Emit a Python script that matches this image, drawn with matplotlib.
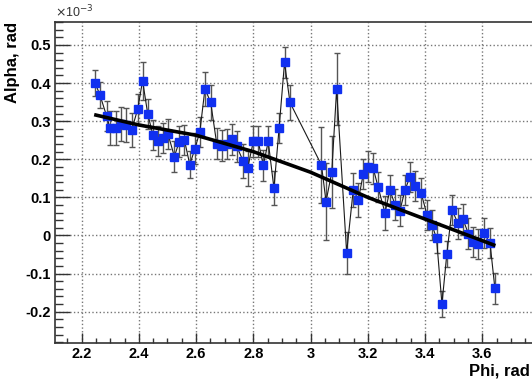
import matplotlib
matplotlib.use("Agg")
import matplotlib.pyplot as plt
from matplotlib.ticker import MultipleLocator

plt.rcParams['font.family'] = ['Liberation Sans', 'DejaVu Sans']

# measured points (alpha in units of 1e-3 rad)
phi = [2.247, 2.264, 2.287, 2.299, 2.320, 2.337, 2.355, 2.375, 2.396, 2.413,
       2.431, 2.449, 2.467, 2.484, 2.502, 2.524, 2.541, 2.559, 2.578, 2.596,
       2.613, 2.631, 2.651, 2.672, 2.690, 2.708, 2.724, 2.742, 2.764, 2.780,
       2.800, 2.817, 2.835, 2.852, 2.872, 2.890, 2.909, 2.928,
       3.038, 3.054, 3.074, 3.091, 3.126, 3.149, 3.167, 3.184, 3.199, 3.219,
       3.236, 3.260, 3.277, 3.295, 3.312, 3.330, 3.347, 3.365, 3.386, 3.407,
       3.424, 3.440, 3.459, 3.476, 3.494, 3.515, 3.533, 3.551, 3.566, 3.585,
       3.606, 3.627, 3.644]
alpha = [0.400, 0.369, 0.314, 0.282, 0.282, 0.293, 0.290, 0.277, 0.332, 0.406,
         0.319, 0.264, 0.248, 0.256, 0.266, 0.207, 0.246, 0.251, 0.186, 0.228,
         0.272, 0.385, 0.349, 0.241, 0.236, 0.240, 0.252, 0.234, 0.196, 0.176,
         0.247, 0.247, 0.184, 0.247, 0.124, 0.282, 0.454, 0.349,
         0.185, 0.089, 0.166, 0.384, -0.045, 0.119, 0.094, 0.161, 0.181, 0.176,
         0.127, 0.059, 0.119, 0.081, 0.065, 0.119, 0.154, 0.130, 0.112, 0.054,
         0.028, -0.007, -0.180, -0.049, 0.067, 0.032, 0.042, 0.005, -0.017, -0.022,
         0.006, -0.020, -0.139]
alpha_err = [0.035, 0.035, 0.040, 0.045, 0.045, 0.045, 0.045, 0.045, 0.040, 0.050,
             0.040, 0.040, 0.040, 0.040, 0.040, 0.040, 0.040, 0.040, 0.035, 0.040,
             0.040, 0.045, 0.045, 0.040, 0.040, 0.040, 0.040, 0.040, 0.045, 0.045,
             0.040, 0.040, 0.040, 0.040, 0.045, 0.040, 0.040, 0.045,
             0.100, 0.100, 0.095, 0.095, 0.055, 0.045, 0.045, 0.040, 0.040, 0.040,
             0.040, 0.045, 0.040, 0.040, 0.040, 0.040, 0.040, 0.040, 0.040, 0.040,
             0.040, 0.040, 0.035, 0.035, 0.040, 0.040, 0.040, 0.040, 0.040, 0.040,
             0.040, 0.040, 0.040]

# fitted curve
fit_phi = [2.25, 2.40, 2.60, 2.80, 3.00, 3.20, 3.40, 3.64]
fit_alpha = [0.316, 0.290, 0.263, 0.220, 0.166, 0.100, 0.043, -0.025]

fig = plt.figure(figsize=(5.32, 3.79), dpi=100)
ax = fig.add_axes([0.1034, 0.0942, 0.90, 0.8485])

ax.errorbar(phi, alpha, yerr=alpha_err, fmt='s-', color='#1a1a1a', lw=0.8,
            ms=6, mfc='#1030f0', mec='#1030f0', ecolor='#555555', elinewidth=1,
            capsize=2.5, capthick=1, zorder=3)
ax.plot(fit_phi, fit_alpha, color='black', lw=2.6, zorder=4)

ax.set_xlim(2.107, 3.78)
ax.set_ylim(-0.283, 0.561)

ax.xaxis.set_major_locator(MultipleLocator(0.2))
ax.xaxis.set_minor_locator(MultipleLocator(0.05))
ax.yaxis.set_major_locator(MultipleLocator(0.1))
ax.yaxis.set_minor_locator(MultipleLocator(0.02))
ax.tick_params(axis='both', which='both', direction='in', color='#333333',
               labelsize=10.5)
ax.tick_params(axis='x', which='major', length=7, width=1, pad=3)
ax.tick_params(axis='x', which='minor', length=3.6, width=1)
ax.tick_params(axis='y', which='major', length=11, width=1, pad=3)
ax.tick_params(axis='y', which='minor', length=6, width=1)
ax.yaxis.set_major_formatter(plt.FuncFormatter(lambda v, p: f"{v:g}" if abs(v) > 1e-9 else "0"))
ax.xaxis.set_major_formatter(plt.FuncFormatter(lambda v, p: f"{v:g}"))
for lab in ax.get_xticklabels() + ax.get_yticklabels():
    lab.set_fontweight('bold')

ax.grid(True, which='major', ls=':', color='#777777', lw=1)
for s in ax.spines.values():
    s.set_color('#333333')
    s.set_linewidth(1.2)

ax.set_ylabel('Alpha, rad', fontsize=12, fontweight='bold', loc='top', labelpad=4)
ax.set_xlabel('Phi, rad', fontsize=12, fontweight='bold', ha='right', labelpad=2)
ax.xaxis.set_label_coords(0.991, -0.062, transform=ax.transAxes)
ax.xaxis.label.set_va('top')
fig.text(0.103, 0.955, r'$\times$10$^{-3}$', fontsize=9, color='#333333')

fig.savefig('out.png', dpi=100)
